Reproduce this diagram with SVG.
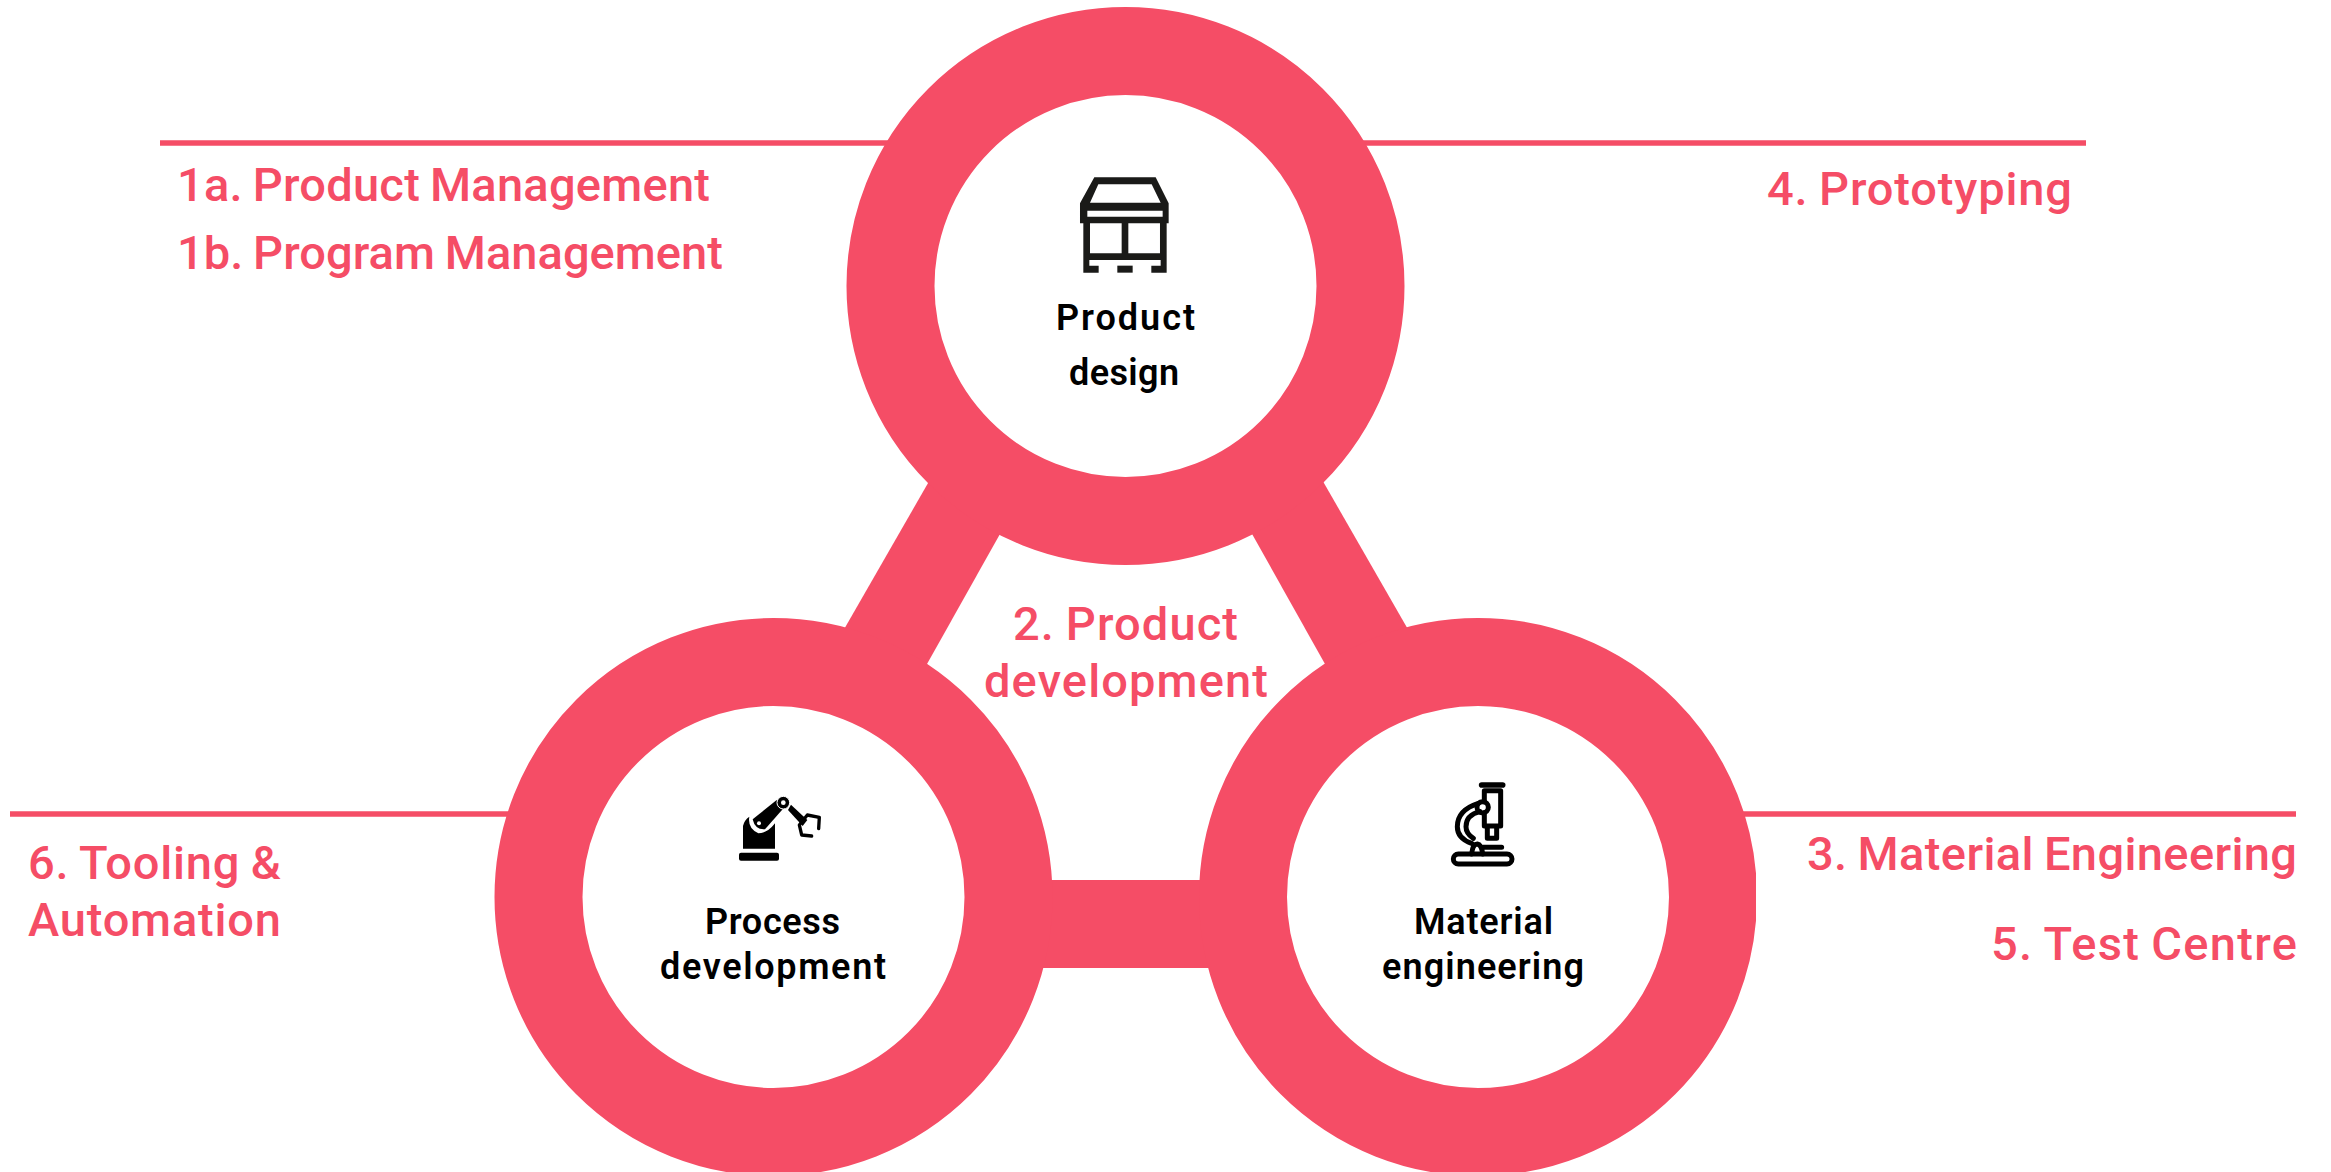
<svg xmlns="http://www.w3.org/2000/svg" width="2331" height="1172" viewBox="0 0 2331 1172">
<style>
.ring{fill:#fff;stroke:#f54d66;stroke-width:88}
.pk{fill:#f54d66;font-family:"Roboto","Liberation Sans",sans-serif;font-size:47px;font-weight:500;word-spacing:-2px}
.bk{fill:#000;font-family:"Roboto","Liberation Sans",sans-serif;font-size:36px;font-weight:600}
.ln{stroke:#f54d66;stroke-width:5.5}
.ico{fill:none;stroke:#000;stroke-linecap:round;stroke-linejoin:round}
</style>
<defs><clipPath id="clip"><rect x="0" y="0" width="1756" height="1172"/></clipPath></defs>
<rect width="2331" height="1172" fill="#fff"/>
<g id="connectors">
<line class="ln" x1="160" y1="143" x2="900" y2="143"/>
<line class="ln" x1="1350" y1="143" x2="2086" y2="143"/>
<line class="ln" x1="10" y1="814" x2="520" y2="814"/>
<line class="ln" x1="1730" y1="814" x2="2296" y2="814"/>
<polygon fill="#f54d66" points="943,457 831,652 913,689 1014,509"/>
<polygon fill="#f54d66" points="1309,457 1421,652 1339,689 1238,509"/>
<rect fill="#f54d66" x="990" y="880" width="272" height="88"/>
</g>
<g id="node-product-design">
<circle class="ring" cx="1125.5" cy="286" r="235"/>
<g transform="translate(1040 150) scale(.3333)">
<path fill="#1a1a18" fill-rule="evenodd" d="M163 82H347L386 160V220H380V368H334V347H362V330H148V347H176V368H130V220H120V160ZM175 103L150 158H362L335 103ZM142 182V200H368V182ZM150 220V310H245V220ZM265 220V310H360V220Z"/>
<rect fill="#1a1a18" x="232" y="347" width="46" height="21"/>
</g>
<text class="bk" x="1056" y="330" textLength="139">Product</text>
<text class="bk" x="1069" y="385" textLength="110">design</text>
</g>
<g id="node-process-development">
<circle class="ring" cx="773.5" cy="897" r="235" clip-path="url(#clip)"/>
<g transform="translate(710 770) scale(.3333)">
<rect x="87" y="248" width="120" height="24" rx="6"/>
<path d="M99 236V168Q103 150 118 140Q112 175 145 190Q172 190 195 160V236Z"/>
<path d="M128 148L200 90L218 118L165 178Q135 180 128 148Z"/>
<circle cx="147" cy="160" r="6" fill="#fff"/>
<circle cx="220" cy="98" r="19" stroke="#fff" stroke-width="3"/>
<circle cx="220" cy="98" r="7" fill="#fff"/>
<path d="M243 104L292 150L278 168L234 120Z"/>
<path class="ico" stroke-width="10" d="M326 176L328 142L292 135L268 165L275 195L305 198"/>
</g>
<text class="bk" x="705" y="934" textLength="135">Process</text>
<text class="bk" x="660" y="979" textLength="226">development</text>
</g>
<g id="node-material-engineering">
<circle class="ring" cx="1478" cy="897" r="235" clip-path="url(#clip)"/>
<g class="ico" transform="translate(1400 770) scale(.3333)" stroke-width="15">
<path stroke-width="17" d="M245 45H308"/>
<path d="M253 62H302V168H253V128M253 95V62"/>
<path d="M262 172V205H290V172"/>
<path d="M235 100Q172 120 172 170Q172 205 215 220"/>
<path d="M240 125Q198 135 198 170Q198 190 220 205"/>
<circle cx="248" cy="112" r="17"/>
<rect x="160" y="252" width="176" height="30" rx="15"/>
<path d="M215 252Q218 222 232 222Q245 224 248 252M250 232H305"/>
</g>
<text class="bk" x="1414" y="934" textLength="139">Material</text>
<text class="bk" x="1382" y="979" textLength="202">engineering</text>
</g>
<g id="labels">
<text class="pk" x="177" y="201" textLength="533">1a. Product Management</text>
<text class="pk" x="177" y="269" textLength="546">1b. Program Management</text>
<text class="pk" x="1767" y="205" textLength="305">4. Prototyping</text>
<text class="pk" x="1013" y="640" textLength="225">2. Product</text>
<text class="pk" x="984" y="697" textLength="284">development</text>
<text class="pk" x="1807" y="870" textLength="490">3. Material Engineering</text>
<text class="pk" x="1991" y="960" textLength="306">5. Test Centre</text>
<text class="pk" x="28" y="879" textLength="253">6. Tooling &amp;</text>
<text class="pk" x="28" y="936" textLength="253">Automation</text>
</g>
</svg>
